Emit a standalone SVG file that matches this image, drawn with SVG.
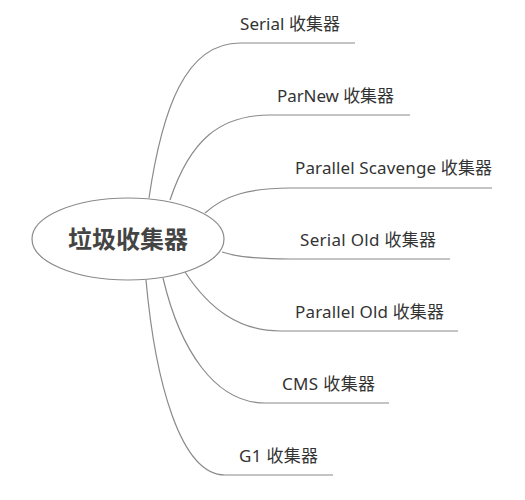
<svg xmlns="http://www.w3.org/2000/svg" width="525" height="500" viewBox="0 0 525 500">
<style>
.c{fill:none;stroke:#8a8a8a;stroke-width:1.2}
.t{font-family:"Noto Sans","Noto Sans CJK SC",sans-serif;font-size:17px;fill:#333}
.m{font-family:"Noto Sans CJK SC","Noto Sans",sans-serif;font-size:24px;font-weight:bold;fill:#444;text-anchor:middle}
</style>
<rect width="525" height="500" fill="#fff"/>
<g id="connectors">
<path class="c" d="M149,198 C162,110 185,43 240,43 H355"/>
<path class="c" d="M170,200 C190,140 220,115 270,115 H410"/>
<path class="c" d="M205,213 C225,195 250,188 290,188 H492"/>
<path class="c" d="M222,252 C240,258 265,259 290,259 H450"/>
<path class="c" d="M185,272 C210,310 240,331 280,331 H458"/>
<path class="c" d="M163,278 C180,350 215,403 265,403 H389"/>
<path class="c" d="M146,280 C155,380 180,475 225,475 H333"/>
</g>
<g id="root">
<ellipse cx="128" cy="239" rx="96" ry="41" fill="#fff" stroke="#8a8a8a" stroke-width="1.2"/>
<text class="m" x="128" y="248">垃圾收集器</text>
</g>
<g id="n1"><text class="t" x="240" y="30" textLength="100" lengthAdjust="spacing">Serial 收集器</text></g>
<g id="n2"><text class="t" x="277" y="102" textLength="117" lengthAdjust="spacing">ParNew 收集器</text></g>
<g id="n3"><text class="t" x="295" y="174" textLength="197" lengthAdjust="spacing">Parallel Scavenge 收集器</text></g>
<g id="n4"><text class="t" x="300" y="246" textLength="136" lengthAdjust="spacing">Serial Old 收集器</text></g>
<g id="n5"><text class="t" x="295" y="318" textLength="149" lengthAdjust="spacing">Parallel Old 收集器</text></g>
<g id="n6"><text class="t" x="282" y="390" textLength="93" lengthAdjust="spacing">CMS 收集器</text></g>
<g id="n7"><text class="t" x="239" y="462" textLength="79" lengthAdjust="spacing">G1 收集器</text></g>
</svg>
